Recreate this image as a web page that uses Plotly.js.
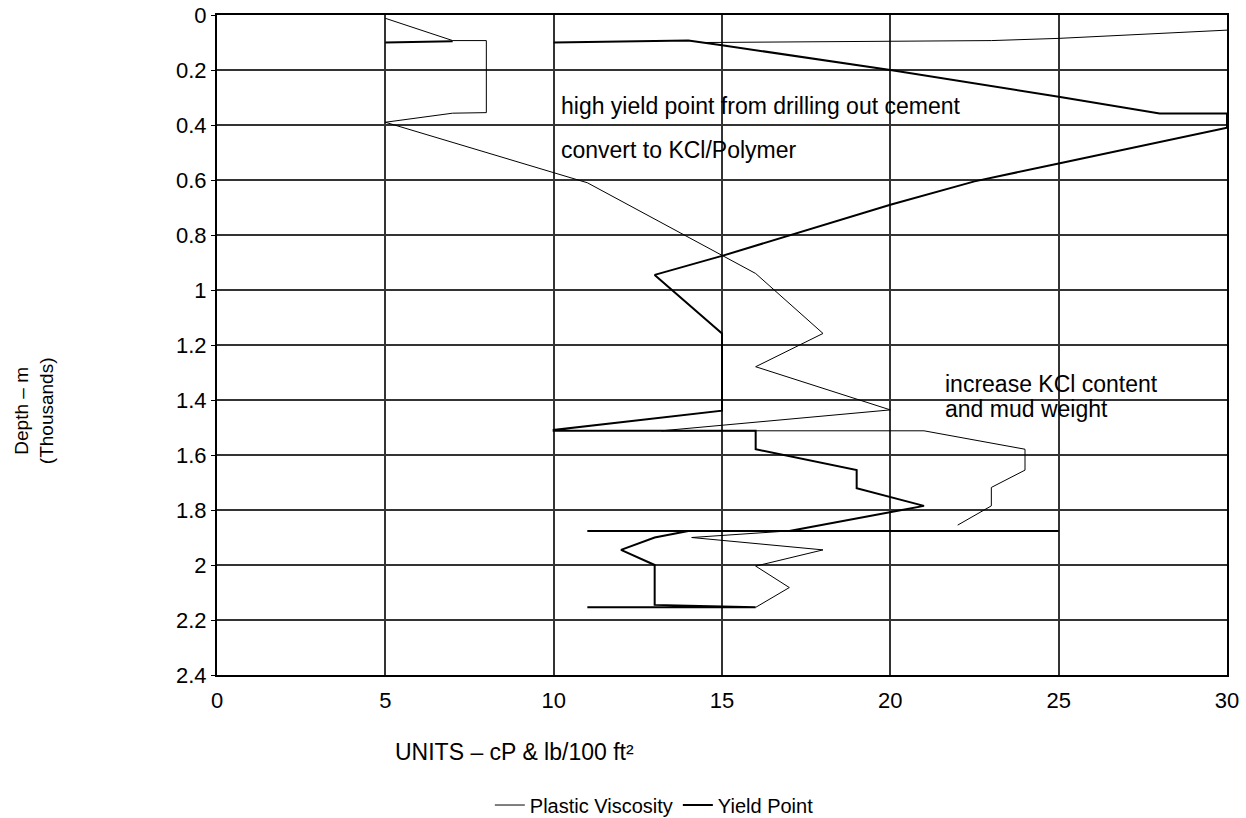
<!DOCTYPE html>
<html>
<head>
<meta charset="utf-8">
<script src="https://cdn.plot.ly/plotly-3.0.1.min.js"></script>
<style>
  html, body { margin: 0; padding: 0; background: #ffffff; }
  #chart { width: 1246px; height: 818px; }
</style>
</head>
<body>
<div id="chart"></div>
<script>
// Mud rheology log: values in cP / lb per 100 ft2, depth in thousands of metres.
// null breaks the line where the logged curve restarts.
const pvValue = [5, 7, 8, 8, 7, 5, 11, 16, 18, 16, 20, 13.2, 21, 24, 24, 23, 23, 22,
                 null, 14.5, 20, 23, 25, 30,
                 null, 16, 17, 16, 18, 14.1, 17];
const pvDepth = [0.012, 0.093, 0.093, 0.355, 0.357, 0.39, 0.61, 0.94, 1.158, 1.279, 1.436, 1.512, 1.512, 1.579, 1.655, 1.718, 1.785, 1.855,
                 null, 0.1, 0.097, 0.093, 0.085, 0.055,
                 null, 2.154, 2.082, 2.004, 1.945, 1.9, 1.876];

const ypValue = [5, 7,
                 null, 10, 12.3, 14, 15, 20, 25, 28, 30, 30, 25, 22.5, 20, 15, 13, 15, 15, 10, 10,
                 16, 16, 19, 19, 21, 17, 25, 11, 14, 13, 12, 13, 13, 16, 11];
const ypDepth = [0.1, 0.095,
                 null, 0.1, 0.097, 0.093, 0.11, 0.2, 0.297, 0.358, 0.358, 0.41, 0.54, 0.605, 0.69, 0.876, 0.945, 1.158, 1.439, 1.509, 1.512,
                 1.512, 1.579, 1.655, 1.721, 1.785, 1.876, 1.876, 1.876, 1.876, 1.9, 1.945, 2.0, 2.145, 2.154, 2.154];

const seriesNames = ['Plastic Viscosity', 'Yield Point'];

const unitTicks = [0, 5, 10, 15, 20, 25, 30];
const unitTickText = ['0', '5', '10', '15', '20', '25', '30'];
const depthTicks = [0, 0.2, 0.4, 0.6, 0.8, 1, 1.2, 1.4, 1.6, 1.8, 2, 2.2, 2.4];
const depthTickText = ['0', '0.2', '0.4', '0.6', '0.8', '1', '1.2', '1.4', '1.6', '1.8', '2', '2.2', '2.4'];

const notes = [
  { text: 'high yield point from drilling out cement', value: 10.15, depth: 0.33 },
  { text: 'convert to KCl/Polymer', value: 10.15, depth: 0.49 },
  { text: 'increase KCl content', value: 21.55, depth: 1.343 },
  { text: 'and mud weight', value: 21.55, depth: 1.432 }
];

const FONT = '"Liberation Sans", Arial, Helvetica, sans-serif';

const traces = [
  {
    x: pvValue, y: pvDepth, name: seriesNames[0],
    type: 'scatter', mode: 'lines', connectgaps: false,
    line: { color: '#000000', width: 1 }
  },
  {
    x: ypValue, y: ypDepth, name: seriesNames[1],
    type: 'scatter', mode: 'lines', connectgaps: false,
    line: { color: '#000000', width: 2 }
  }
];

const annotations = notes.map(n => ({
  x: n.value, y: n.depth, xref: 'x', yref: 'y',
  text: n.text, showarrow: false,
  xanchor: 'left', yanchor: 'middle',
  font: { family: FONT, size: 23, color: '#000' }
}));

// x-axis caption, set left of centre under the plot
annotations.push({
  xref: 'paper', yref: 'paper', x: 0.1746, y: -0.117,
  xanchor: 'left', yanchor: 'middle', showarrow: false,
  text: 'UNITS \u2013 cP & lb/100 ft\u00b2',
  font: { family: FONT, size: 23, color: '#000' }
});

// two-line y-axis caption
annotations.push({
  xref: 'paper', yref: 'paper', x: -0.181, y: 0.40,
  xanchor: 'center', yanchor: 'middle', showarrow: false,
  textangle: -90,
  text: 'Depth \u2013 m<br>(Thousands)',
  font: { family: FONT, size: 19, color: '#000' }
});

const layout = {
  width: 1246, height: 818,
  // fixed plot frame; the legend below must not shrink it
  margin: { l: 217, r: 19, t: 15, b: 143, autoexpand: false },
  paper_bgcolor: '#ffffff', plot_bgcolor: '#ffffff',
  font: { family: FONT, color: '#000' },
  showlegend: true,
  legend: {
    orientation: 'h', x: 0.433, xanchor: 'center', y: -0.197, yanchor: 'middle',
    font: { family: FONT, size: 20, color: '#000' },
    itemwidth: 30
  },
  xaxis: {
    range: [0, 30], tickvals: unitTicks, ticktext: unitTickText,
    showgrid: true, gridcolor: '#333', gridwidth: 2,
    zeroline: false, showline: true, linecolor: '#000', linewidth: 2, mirror: true,
    ticks: '', ticklabelstandoff: 5,
    tickfont: { family: FONT, size: 22, color: '#000' }
  },
  yaxis: {
    range: [2.4, 0], tickvals: depthTicks, ticktext: depthTickText,
    showgrid: true, gridcolor: '#333', gridwidth: 2,
    zeroline: false, showline: true, linecolor: '#000', linewidth: 2, mirror: true,
    ticks: 'outside', ticklen: 4, tickcolor: '#000',
    tickfont: { family: FONT, size: 22, color: '#000' }
  },
  annotations: annotations
};

Plotly.newPlot('chart', traces, layout, { displayModeBar: false, staticPlot: true });
</script>
</body>
</html>
